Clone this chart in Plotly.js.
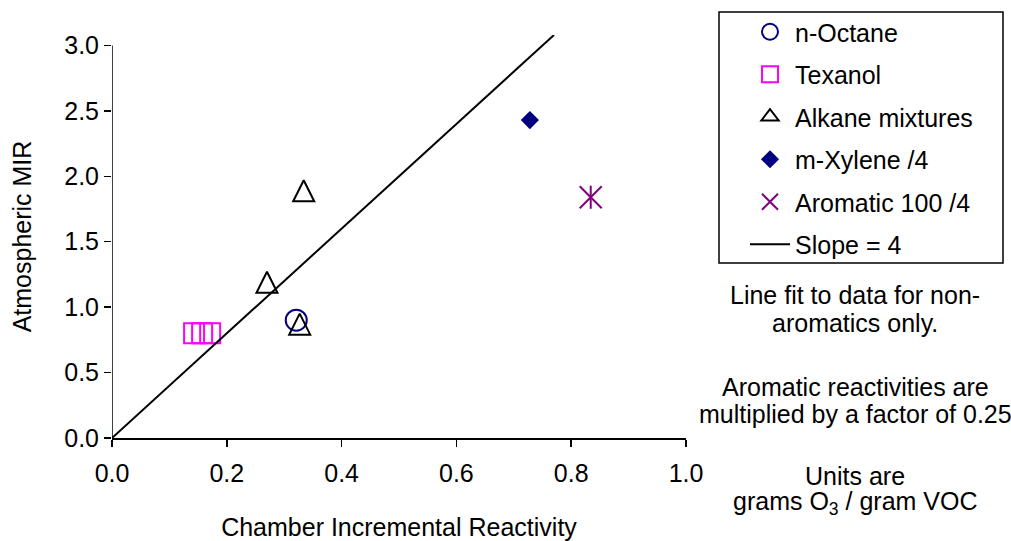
<!DOCTYPE html>
<html>
<head>
<meta charset="utf-8">
<script src="https://cdn.plot.ly/plotly-3.0.1.min.js"></script>
<style>
  html, body { margin: 0; padding: 0; background: #ffffff; }
  #chart { width: 1011px; height: 541px; }
</style>
</head>
<body>
<div id="chart"></div>
<script>
// Chamber vs. atmospheric reactivity (grams O3 / gram VOC)
const octaneX = [0.321];
const octaneY = [0.90];

const texanolX = [0.143, 0.157, 0.171];
const texanolY = [0.80, 0.80, 0.80];

const alkaneX = [0.270, 0.334, 0.327];
const alkaneY = [1.19, 1.89, 0.87];

const xyleneX = [0.728];
const xyleneY = [2.43];

const arom100X = [0.834];
const arom100Y = [1.84];

// fitted line through the origin, slope 4
const slopeX = [0, 0.77];
const slopeY = [0, 3.08];

const xTicks = [0, 0.2, 0.4, 0.6, 0.8, 1.0];
const yTicks = [0, 0.5, 1.0, 1.5, 2.0, 2.5, 3.0];

const noteLines = [
  'Line fit to data for non-',
  'aromatics only.',
  'Aromatic reactivities are',
  'multiplied by a factor of 0.25',
  'Units are',
  'grams O<sub>3</sub> / gram VOC'
];
const noteRows = [295, 323, 387, 414, 476, 503];

const FONT = 'Liberation Sans, Arial, sans-serif';
const L = 112, R = 325, T = 35, B = 103;
const W = 1011, H = 541;
const plotW = W - L - R, plotH = H - T - B;
const px2x = p => (p - L) / plotW;
const py2y = p => (H - B - p) / plotH;

const traces = [
  { x: octaneX, y: octaneY, name: 'n-Octane', type: 'scatter', mode: 'markers', legendgroup: 'a',
    marker: { symbol: 'circle-open', size: 21, color: '#000080', line: { width: 2, color: '#000080' } } },
  { x: texanolX, y: texanolY, name: 'Texanol', type: 'scatter', mode: 'markers', legendgroup: 'b',
    marker: { symbol: 'square-open', size: 20, color: '#ff00ff', line: { width: 2, color: '#ff00ff' } } },
  // tall open triangles, centred on each point
  { x: alkaneX, y: alkaneY, name: 'Alkane mixtures', type: 'scatter', mode: 'markers', legendgroup: 'c',
    showlegend: false,
    marker: { symbol: 'arrow-down-open', angle: 180, standoff: 10.5, size: 21, color: '#000000', line: { width: 2, color: '#000000' } } },
  // legend key for the triangles
  { x: [null], y: [null], name: 'Alkane mixtures', type: 'scatter', mode: 'markers', legendgroup: 'c',
    hoverinfo: 'skip',
    marker: { symbol: 'triangle-up-open', size: 15, color: '#000000', line: { width: 2, color: '#000000' } } },
  { x: xyleneX, y: xyleneY, name: 'm-Xylene /4', type: 'scatter', mode: 'markers', legendgroup: 'd',
    marker: { symbol: 'diamond', size: 14, color: '#000080', line: { width: 0 } } },
  { x: arom100X, y: arom100Y, name: 'Aromatic 100 /4', type: 'scatter', mode: 'markers', legendgroup: 'e',
    marker: { symbol: 'x-thin-open', size: 22, color: '#800080', line: { width: 2, color: '#800080' } } },
  { x: arom100X, y: arom100Y, name: 'Aromatic 100 /4', type: 'scatter', mode: 'markers', legendgroup: 'e',
    showlegend: false, hoverinfo: 'skip',
    marker: { symbol: 'line-ns-open', size: 16.5, color: '#800080', line: { width: 2, color: '#800080' } } },
  { x: slopeX, y: slopeY, name: 'Slope = 4', type: 'scatter', mode: 'lines', legendgroup: 'f',
    line: { color: '#000000', width: 2 } }
];

const annotations = noteLines.map((t, i) => ({
  text: t, xref: 'paper', yref: 'paper', x: px2x(855), y: py2y(noteRows[i]),
  xanchor: 'center', yanchor: 'middle', showarrow: false,
  font: { family: FONT, size: 25, color: '#000000' }
}));

const layout = {
  width: W, height: H,
  margin: { l: L, r: R, t: T, b: B, pad: 0, autoexpand: false },
  paper_bgcolor: '#ffffff', plot_bgcolor: '#ffffff',
  font: { family: FONT, size: 25, color: '#000000' },
  showlegend: true,
  legend: {
    x: px2x(745), y: py2y(9), xanchor: 'left', yanchor: 'top',
    bgcolor: 'rgba(0,0,0,0)', borderwidth: 0,
    traceorder: 'grouped', tracegroupgap: 7, itemwidth: 40,
    font: { family: FONT, size: 25, color: '#000000' }
  },
  xaxis: {
    range: [0, 1], tickvals: xTicks, tickformat: '.1f',
    showgrid: false, zeroline: false, showline: true, linecolor: '#000000', linewidth: 1.5,
    ticks: 'outside', ticklen: 7, tickwidth: 1.5, tickcolor: '#000000',
    ticklabelstandoff: 5,
    tickfont: { family: FONT, size: 25 },
    title: { text: 'Chamber Incremental Reactivity', font: { family: FONT, size: 25 }, standoff: 33 }
  },
  yaxis: {
    range: [0, 3.08], tickvals: yTicks, tickformat: '.1f',
    showgrid: false, zeroline: false, showline: false,
    ticks: 'outside', ticklen: 7, tickwidth: 1.5, tickcolor: '#000000',
    tickfont: { family: FONT, size: 25 },
    title: { text: 'Atmospheric MIR', font: { family: FONT, size: 25 }, standoff: 25 }
  },
  shapes: [
    // vertical axis line, stops at the top tick
    { type: 'line', xref: 'x', yref: 'y', x0: 0, x1: 0, y0: 0, y1: 3.0,
      line: { color: '#000000', width: 1.5 } },
    // legend frame
    { type: 'rect', xref: 'paper', yref: 'paper',
      x0: px2x(719), x1: px2x(1003), y0: py2y(263), y1: py2y(12),
      line: { color: '#000000', width: 1.5 }, fillcolor: 'rgba(0,0,0,0)' }
  ],
  annotations: annotations
};

Plotly.newPlot('chart', traces, layout, { displayModeBar: false, staticPlot: true });
</script>
</body>
</html>
